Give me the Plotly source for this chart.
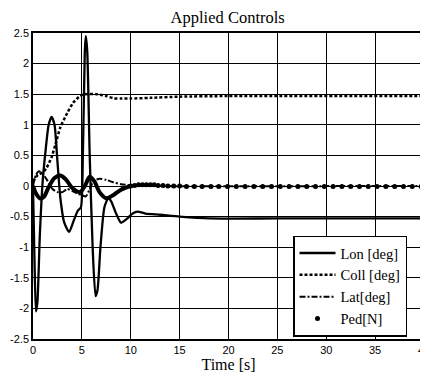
import plotly.graph_objects as go

# ---- data ----
lon_t = [0, 0.15, 0.3, 0.45, 0.7, 1.0, 1.3, 1.6, 1.9, 2.2, 2.5, 2.8, 3.2, 3.7, 4.2, 4.6, 4.9,
         5.1, 5.3, 5.4, 5.55, 5.8, 6.1, 6.4, 6.6, 6.9, 7.3, 7.7, 8.0, 8.5, 9.0, 9.5, 10.2, 10.7,
         11.5, 13, 15, 18, 25, 40]
lon_v = [0.0, -1.2, -2.05, -1.9, -0.8, 0.1, 0.6, 1.0, 1.13, 1.0, 0.4, -0.2, -0.6, -0.75, -0.55,
         -0.4, -0.35, 0.5, 2.2, 2.45, 2.2, 0.5, -1.0, -1.8, -1.7, -1.0, -0.35, -0.2, -0.25, -0.45,
         -0.6, -0.55, -0.45, -0.42, -0.45, -0.47, -0.5, -0.53, -0.53, -0.53]

coll_t = [0, 0.5, 1.0, 1.4, 1.9, 2.3, 2.8, 3.5, 4.1, 4.8, 5.3, 6.5, 7.5, 8.3, 9, 10, 12, 15, 20, 40]
coll_v = [0.08, 0.18, 0.22, 0.3, 0.47, 0.68, 0.96, 1.19, 1.36, 1.47, 1.5, 1.5, 1.47, 1.43, 1.43,
          1.43, 1.44, 1.46, 1.47, 1.47]

lat_t = [0, 0.3, 0.6, 1.0, 1.5, 2.0, 2.5, 3.0, 3.5, 4.0, 4.5, 5.0, 5.4, 5.8, 6.2, 6.8, 7.5, 8.2,
         9.0, 10, 12, 40]
lat_v = [0.0, 0.18, 0.24, 0.2, 0.08, -0.05, -0.1, -0.1, -0.05, -0.08, -0.12, -0.15, -0.17, -0.05,
         0.08, 0.12, 0.1, 0.06, 0.03, 0.01, 0.0, 0.0]

ped_t = [0, 0.3, 0.7, 1.1, 1.6, 2.2, 2.8, 3.4, 4.0, 4.8, 5.3, 5.8, 6.3, 6.8, 7.5, 8.2, 9.0, 10.0,
         10.4, 10.8, 11.2, 11.6, 12.0, 12.4, 12.8, 13.3, 13.8, 14.4, 15.0, 15.7, 16.5, 17.3, 18.2,
         19.0, 19.9, 20.8, 21.7, 22.6, 23.5, 24.4, 25.3, 26.2, 27.1, 28.0, 28.9, 29.8, 30.7, 31.6,
         32.5, 33.4, 34.3, 35.2, 36.1, 37.0, 37.9, 38.8, 39.7]
ped_v = [0.0, -0.12, -0.2, -0.18, -0.02, 0.13, 0.17, 0.1, -0.03, -0.1, 0.0, 0.15, 0.07, -0.1,
         -0.2, -0.15, -0.06, 0.0,
         0.01, 0.02, 0.02, 0.02, 0.02, 0.02, 0.01, 0.01, 0.0, 0.0, 0.0, -0.01, -0.01, -0.01, -0.01,
         -0.01, -0.01, -0.01, -0.01, -0.01, -0.01, -0.01, -0.01, -0.01, -0.01, -0.01, -0.01, -0.01,
         -0.01, -0.01, -0.01, -0.01, -0.01, -0.01, -0.01, -0.01, -0.01, -0.01, -0.01]

x_ticks = [0, 5, 10, 15, 20, 25, 30, 35, 40]
y_ticks = [-2.5, -2, -1.5, -1, -0.5, 0, 0.5, 1, 1.5, 2, 2.5]
y_labels = ["-2.5", "-2", "-1.5", "-1", "-0.5", "0", "0.5", "1", "1.5", "2", "2.5"]

serif = "Liberation Serif, Times New Roman, serif"
sans = "Liberation Sans, Arial, sans-serif"

split = ped_t.index(10.0)

fig = go.Figure()
fig.add_trace(go.Scatter(x=lon_t, y=lon_v, mode="lines", name="Lon [deg]",
                         line=dict(color="black", width=2.3, shape="spline", smoothing=0.6)))
fig.add_trace(go.Scatter(x=coll_t, y=coll_v, mode="lines", name="Coll [deg]",
                         line=dict(color="black", width=2.5, dash="3px,2px", shape="spline", smoothing=0.6)))
fig.add_trace(go.Scatter(x=lat_t, y=lat_v, mode="lines", name="Lat[deg]",
                         line=dict(color="black", width=2, dash="6px,2px,2px,2px", shape="spline", smoothing=0.6)))
fig.add_trace(go.Scatter(x=ped_t[:split + 1], y=ped_v[:split + 1], mode="lines", showlegend=False,
                         line=dict(color="black", width=4, shape="spline", smoothing=0.8)))
fig.add_trace(go.Scatter(x=ped_t[split:], y=ped_v[split:], mode="markers", name="Ped[N]",
                         marker=dict(color="black", size=5)))

axis_common = dict(showline=True, linecolor="black", linewidth=1.5, mirror=True,
                   showgrid=True, gridcolor="black", gridwidth=1, zeroline=False,
                   ticks="inside", ticklen=4, tickcolor="black", automargin=False,
                   ticklabeloverflow="allow",
                   tickfont=dict(family=sans, size=11, color="black"))

# page body adds an 8px offset, so the figure is 420x368 to fill the 428x376 window
fig.update_layout(
    width=420, height=368,
    margin=dict(l=25, r=4, t=25, b=37),
    paper_bgcolor="white", plot_bgcolor="white",
    title=dict(text="Applied Controls", x=0.523, xanchor="center", y=0.975, yanchor="middle",
               font=dict(family=serif, size=16.5, color="black")),
    xaxis=dict(range=[0, 40], tickvals=x_ticks, ticktext=[str(v) for v in x_ticks],
               title=dict(text="Time [s]", font=dict(family=serif, size=16, color="black"), standoff=4),
               **axis_common),
    yaxis=dict(range=[-2.5, 2.5], tickvals=y_ticks, ticktext=y_labels, **axis_common),
    legend=dict(x=0.665, y=0.008, xanchor="left", yanchor="bottom",
                bgcolor="white", bordercolor="black", borderwidth=1.5,
                font=dict(family=serif, size=14.5, color="black"),
                itemwidth=36, tracegroupgap=0),
    showlegend=True,
)

fig.write_html("out.html")
